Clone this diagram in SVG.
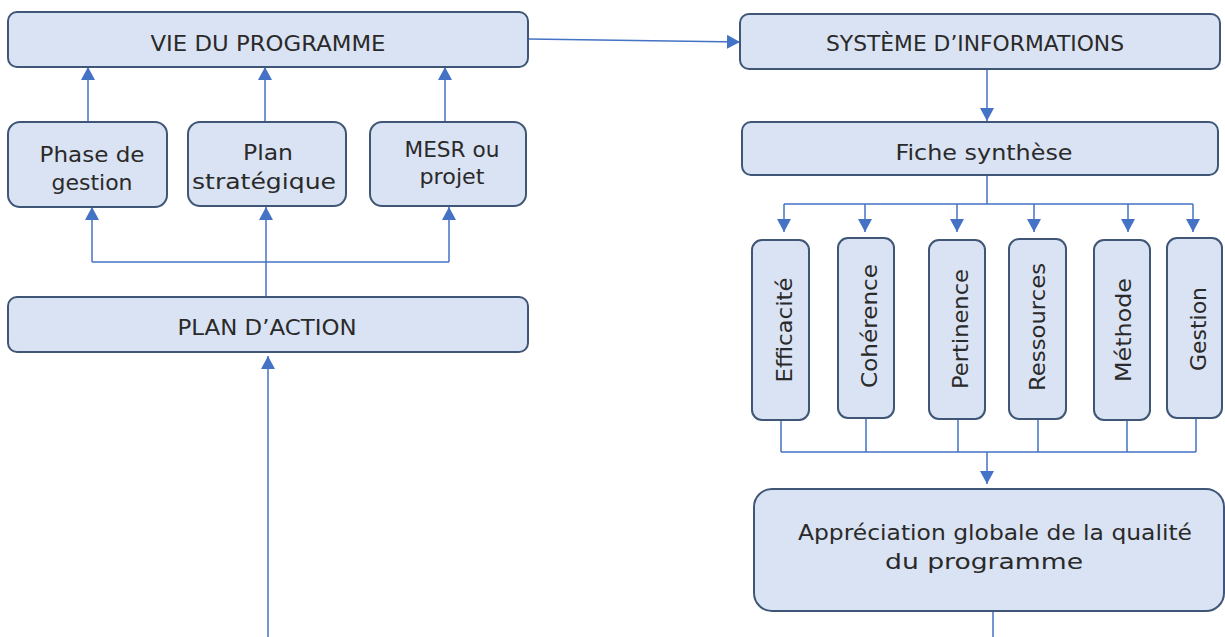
<svg xmlns="http://www.w3.org/2000/svg" width="1225" height="637" viewBox="0 0 1225 637">
<defs>
<marker id="ah" viewBox="0 0 13 14" refX="13" refY="7" markerWidth="13" markerHeight="14" markerUnits="userSpaceOnUse" orient="auto">
<path d="M0,0 L13,7 L0,14 z" fill="#4472c4"/>
</marker>
</defs>
<style>
.box{fill:#dae3f3;stroke:#3f5677;stroke-width:2}
.t{font-family:"DejaVu Sans","Liberation Sans",sans-serif;font-size:22px;fill:#2a2a2a;text-anchor:middle}
.c{fill:none;stroke:#4472c4;stroke-width:1.5}
.a{fill:none;stroke:#4472c4;stroke-width:1.5;marker-end:url(#ah)}
</style>
<rect width="1225" height="637" fill="#fff"/>
<g id="connectors">
<path class="a" d="M88,122 V67"/>
<path class="a" d="M265,122 V67"/>
<path class="a" d="M445,122 V67"/>
<path class="c" d="M92,262 H449"/>
<path class="a" d="M92,262 V207"/>
<path class="a" d="M449,262 V207"/>
<path class="a" d="M266,297 V207"/>
<path class="a" d="M268,637 V356"/>
<path class="a" d="M529,39 L740,42"/>
<path class="a" d="M987,69 V121"/>
<path class="c" d="M987,175 V204 M784,204 H1193"/>
<path class="a" d="M784,204 V232"/>
<path class="a" d="M865,204 V232"/>
<path class="a" d="M957,204 V232"/>
<path class="a" d="M1034,204 V232"/>
<path class="a" d="M1128,204 V232"/>
<path class="a" d="M1193,204 V232"/>
<path class="c" d="M781,420 V452 M866,418 V452 M958,419 V452 M1038,419 V452 M1127,420 V452 M1196,418 V452 M781,452 H1196"/>
<path class="a" d="M987,452 V484"/>
<path class="c" d="M993,611 V637"/>
</g>
<g id="vie"><rect class="box" x="8" y="12" width="520" height="55" rx="9"/><text class="t" x="268" y="51" textLength="235" lengthAdjust="spacingAndGlyphs">VIE DU PROGRAMME</text></g>
<g id="phase"><rect class="box" x="8" y="122" width="159" height="85" rx="12"/><text class="t" x="92" y="162" textLength="105" lengthAdjust="spacingAndGlyphs">Phase de</text><text class="t" x="92" y="190" textLength="81" lengthAdjust="spacingAndGlyphs">gestion</text></g>
<g id="plan"><rect class="box" x="188" y="122" width="158" height="84" rx="12"/><text class="t" x="268" y="160" textLength="50" lengthAdjust="spacingAndGlyphs">Plan</text><text class="t" x="264" y="189" textLength="144" lengthAdjust="spacingAndGlyphs">stratégique</text></g>
<g id="mesr"><rect class="box" x="370" y="122" width="156" height="84" rx="12"/><text class="t" x="452" y="157" textLength="95" lengthAdjust="spacingAndGlyphs">MESR ou</text><text class="t" x="452" y="184" textLength="65" lengthAdjust="spacingAndGlyphs">projet</text></g>
<g id="planaction"><rect class="box" x="8" y="297" width="520" height="55" rx="9"/><text class="t" x="267" y="335" textLength="179" lengthAdjust="spacingAndGlyphs">PLAN D’ACTION</text></g>
<g id="systeme"><rect class="box" x="740" y="14" width="480" height="55" rx="9"/><text class="t" x="975" y="51" textLength="298" lengthAdjust="spacingAndGlyphs">SYSTÈME D’INFORMATIONS</text></g>
<g id="fiche"><rect class="box" x="742" y="122" width="476" height="53" rx="9"/><text class="t" x="984" y="160" textLength="177" lengthAdjust="spacingAndGlyphs">Fiche synthèse</text></g>
<g id="efficacite"><rect class="box" x="752" y="240" width="57" height="180" rx="10"/><text class="t" transform="translate(792,330) rotate(-90)" textLength="105" lengthAdjust="spacingAndGlyphs">Efficacité</text></g>
<g id="coherence"><rect class="box" x="838" y="238" width="56" height="180" rx="10"/><text class="t" transform="translate(877,326) rotate(-90)" textLength="124" lengthAdjust="spacingAndGlyphs">Cohérence</text></g>
<g id="pertinence"><rect class="box" x="929" y="240" width="56" height="179" rx="10"/><text class="t" transform="translate(968,329) rotate(-90)" textLength="120" lengthAdjust="spacingAndGlyphs">Pertinence</text></g>
<g id="ressources"><rect class="box" x="1009" y="239" width="57" height="180" rx="10"/><text class="t" transform="translate(1045,327) rotate(-90)" textLength="128" lengthAdjust="spacingAndGlyphs">Ressources</text></g>
<g id="methode"><rect class="box" x="1094" y="240" width="56" height="180" rx="10"/><text class="t" transform="translate(1131,330) rotate(-90)" textLength="104" lengthAdjust="spacingAndGlyphs">Méthode</text></g>
<g id="gestion"><rect class="box" x="1167" y="238" width="55" height="180" rx="10"/><text class="t" transform="translate(1206,329) rotate(-90)" textLength="84" lengthAdjust="spacingAndGlyphs">Gestion</text></g>
<g id="appreciation"><rect class="box" x="754" y="489" width="470" height="122" rx="18"/><text class="t" x="995" y="540" textLength="394" lengthAdjust="spacingAndGlyphs">Appréciation globale de la qualité</text><text class="t" x="984" y="569" textLength="198" lengthAdjust="spacingAndGlyphs">du programme</text></g>
</svg>
